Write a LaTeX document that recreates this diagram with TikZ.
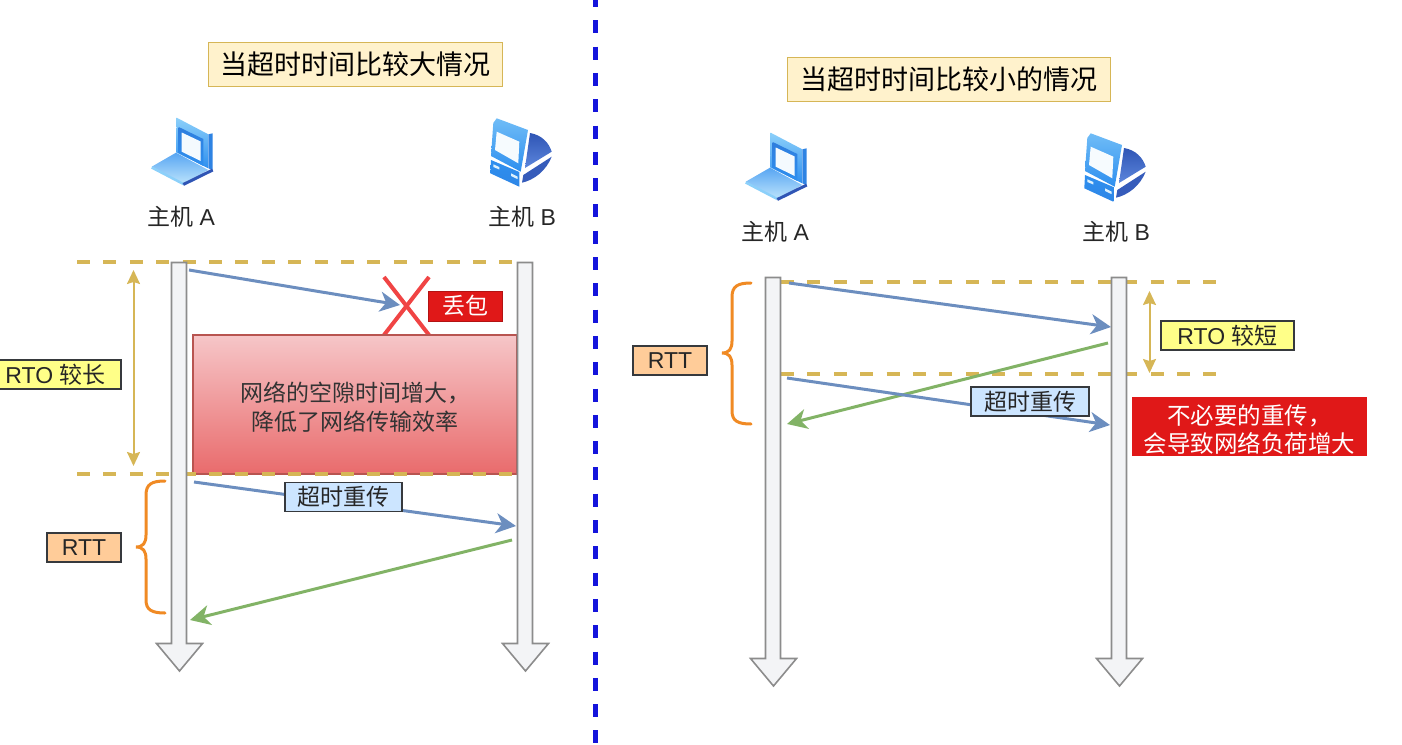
\documentclass[tikz,border=0pt]{standalone}
\usepackage{fontspec}
\setmainfont{Noto Sans CJK SC}
\newfontfamily\lat{Liberation Sans}
\usepackage{tikz}
\usetikzlibrary{arrows.meta,calc}
\definecolor{Sand}{HTML}{D6B656}
\definecolor{TitleFill}{HTML}{FFF2CC}
\definecolor{Steel}{HTML}{6C8EBF}
\definecolor{Leaf}{HTML}{82B366}
\definecolor{Amber}{HTML}{F08A24}
\definecolor{Ink}{HTML}{36393D}
\definecolor{Rail}{HTML}{F3F4F6}
\definecolor{RailLine}{HTML}{8C8C8C}
\definecolor{Alarm}{HTML}{E01818}
\definecolor{CrossRed}{HTML}{F04444}
\definecolor{PaleBlue}{HTML}{CCE5FF}
\definecolor{PaleYellow}{HTML}{FFFF88}
\definecolor{PaleOrange}{HTML}{FFCC99}
\definecolor{GapTop}{HTML}{F6C6C8}
\definecolor{GapEnd}{HTML}{E96B6C}
\definecolor{GapLine}{HTML}{B85450}
\definecolor{Divider}{HTML}{1414DC}
\definecolor{SkyA}{HTML}{2E8FEF}
\definecolor{SkyB}{HTML}{8CD0FA}
\definecolor{SkyC}{HTML}{2F55B5}
\definecolor{SkyD}{HTML}{5C86DC}
\tikzset{
  titlebox/.style={draw=Sand,fill=TitleFill,line width=1pt,minimum height=44pt,font=\fontsize{27}{27}\selectfont},
  hostlabel/.style={font=\fontsize{23}{23}\selectfont,text=black!85},
  tagbox/.style={draw=Ink,line width=1.2pt,minimum height=29pt,font=\fontsize{23}{23}\selectfont,text=black!85},
  timeline/.style={Sand,line width=4pt,dash pattern=on 13pt off 13.4pt},
  rtospan/.style={{Stealth[length=14pt,width=13pt,inset=2pt]}-{Stealth[length=14pt,width=13pt,inset=2pt]},Sand,line width=2pt},
  msg/.style={-{Stealth[length=20pt,width=20pt,inset=6pt]},line width=3pt},
  bracket/.style={Amber,line width=3pt,line cap=round},
  pics/rail/.style={code={
    \draw[draw=RailLine,fill=Rail,line width=1.6pt] (-7.5,0) -- (7.5,0) -- (7.5,381) -- (23.5,381) -- (0.5,408.5) -- (-22.5,381) -- (-7.5,381) -- cycle;
  }},
  pics/laptop/.style={code={
    \shade[top color=SkyB,bottom color=SkyA] (-4.3,-8.3) -- (27.3,8.3) -- (27.3,42.3) -- (-5,26.3) -- cycle;
    \fill[SkyA!80!SkyC] (27.3,8.3) -- (31.7,7.3) -- (31.7,44) -- (27.3,42.3) -- cycle;
    \shade[top color=SkyA!70!SkyC,bottom color=SkyA] (-2.3,1) -- (22.3,13) -- (22.3,40) -- (-2.3,27) -- cycle;
    \fill[white!90!SkyB] (0.7,6.5) -- (19.7,15.5) -- (19.7,35) -- (0.7,25.7) -- cycle;
    \shade[top color=SkyA!80!white,bottom color=SkyB!60!white] (-29.3,40.7) -- (-5,26.7) -- (27.3,44) -- (2.3,57.3) -- cycle;
    \draw[SkyB,line width=2.5pt] (-29.3,41.5) -- (2.3,58);
    \draw[SkyC,line width=3pt] (2.3,58.5) -- (31.7,44);
  }},
  pics/desktop/.style={code={
    \shade[top color=SkyB!70!SkyA,bottom color=SkyA] (-28.7,-3) -- (-25.3,-7.7) -- (6,4) -- (-1.3,45.7) -- (-31,30) -- cycle;
    \fill[white!92!SkyB] (-25.3,5.7) -- (-2.7,15.7) -- (-3.7,37.3) -- (-27,24) -- cycle;
    \shade[top color=SkyA,bottom color=SkyA!85!SkyC] (-31,34) -- (-2.7,46) -- (-2.7,60.7) -- (-31.7,47.3) -- cycle;
    \fill[white!70!SkyB] (-28.7,38.3) -- (-22.7,41) -- (-22.7,43.5) -- (-28.7,41) -- cycle;
    \fill[white!70!SkyB] (-11,47.3) -- (-4.3,50.7) -- (-4.3,53.2) -- (-11,50) -- cycle;
    \shade[top color=SkyC,bottom color=SkyD] (8,7) .. controls (20,9) and (27,17) .. (29.7,25.7) -- (3,42) -- cycle;
    \fill[SkyC!85!SkyD] (29.7,30.7) -- (1.3,49) -- (0,56.7) .. controls (12,54) and (24,45) .. (29.7,30.7) -- cycle;
  }},
}
\begin{document}
\begin{tikzpicture}[x=1pt,y=-1pt]
\useasboundingbox (0,0) rectangle (1402,744);
% divider
\coordinate (divtop) at (595.5,-6);
\coordinate (divbot) at (595.5,744);
\draw[Divider,line width=4.5pt,dash pattern=on 13pt off 13.3pt] (divtop) -- (divbot);

% left side: large timeout
\node[titlebox,minimum width=294pt] (titleL) at (355,64) {当超时时间比较大情况};
\pic at (181,126) {laptop};
\pic at (522,126) {desktop};
\node[hostlabel] (hostLA) at (181,217) {主机{\lat\ A}};
\node[hostlabel] (hostLB) at (522,217) {主机{\lat\ B}};
\coordinate (dashLa) at (77,262);
\coordinate (dashLb) at (516,262);
\coordinate (dashLc) at (77,474);
\coordinate (dashLd) at (516,474);
\draw[CrossRed,line width=4pt] (384,277) -- (429,335);
\draw[CrossRed,line width=4pt] (429,277) -- (384,335);
\node[draw=GapLine,line width=2pt,top color=GapTop,bottom color=GapEnd,minimum width=324pt,minimum height=139pt,align=center,font=\fontsize{23}{29}\selectfont,text=black!80] (gapL) at (355,404.5) {\rule{0pt}{25pt}网络的空隙时间增大，\\ 降低了网络传输效率};
\draw[timeline] (dashLa) -- (dashLb);
\draw[timeline] (dashLc) -- (dashLd);
\pic at (179,262.5) {rail};
\pic at (525,262.5) {rail};
\coordinate (rtoLa) at (133.5,270);
\coordinate (rtoLb) at (133.5,466);
\draw[rtospan] (rtoLa) -- (rtoLb);
\node[tagbox,fill=PaleYellow,minimum width=131pt] (rtoL) at (55.5,374.5) {{\lat RTO }较长};
\node[tagbox,fill=PaleOrange,minimum width=74pt] (rttL) at (84,547.5) {\lat RTT};
\draw[bracket] (165,481) .. controls (152,481) and (146,484) .. (146,495) -- (146,535) .. controls (146,543) and (143,547) .. (136,547) .. controls (143,547) and (146,551) .. (146,559) -- (146,600) .. controls (146,610) and (152,613) .. (165,613);
\coordinate (sendLa) at (189,270);
\coordinate (sendLb) at (400,305);
\draw[msg,Steel] (sendLa) -- (sendLb);
\node[fill=Alarm,draw=Alarm!80!black,minimum width=74pt,minimum height=30pt,text=white,font=\fontsize{23}{23}\selectfont] (lostL) at (465,306) {丢包};
\coordinate (againLa) at (194,482);
\coordinate (againLb) at (516,526);
\draw[msg,Steel] (againLa) -- (againLb);
\node[tagbox,fill=PaleBlue,minimum width=117pt] (againL) at (343.5,497) {超时重传};
\coordinate (ackLa) at (512,540);
\coordinate (ackLb) at (190,620);
\draw[msg,Leaf] (ackLa) -- (ackLb);

% right side: small timeout
\node[titlebox,minimum width=323pt] (titleR) at (948.5,79) {当超时时间比较小的情况};
\pic at (775,141) {laptop};
\pic at (1116,141) {desktop};
\node[hostlabel] (hostRA) at (775,232) {主机{\lat\ A}};
\node[hostlabel] (hostRB) at (1116,232) {主机{\lat\ B}};
\coordinate (dashRa) at (781,282);
\coordinate (dashRb) at (1216,282);
\coordinate (dashRc) at (781,374);
\coordinate (dashRd) at (1216,374);
\draw[timeline] (dashRa) -- (dashRb);
\draw[timeline] (dashRc) -- (dashRd);
\pic at (773,277.5) {rail};
\pic at (1119,277.5) {rail};
\coordinate (rtoRa) at (1149.5,291);
\coordinate (rtoRb) at (1149.5,373);
\draw[rtospan] (rtoRa) -- (rtoRb);
\node[tagbox,fill=PaleYellow,minimum width=133pt] (rtoR) at (1227.5,335.5) {{\lat RTO }较短};
\node[tagbox,fill=PaleOrange,minimum width=74pt] (rttR) at (670,360.5) {\lat RTT};
\draw[bracket] (751,283) .. controls (738,283) and (732,286) .. (732,297) -- (732,341) .. controls (732,349) and (729,353) .. (722,353) .. controls (729,353) and (732,357) .. (732,365) -- (732,411) .. controls (732,421) and (738,424) .. (751,424);
\coordinate (sendRa) at (789,283);
\coordinate (sendRb) at (1111,327);
\draw[msg,Steel] (sendRa) -- (sendRb);
\coordinate (ackRa) at (1108,343);
\coordinate (ackRb) at (787,424);
\draw[msg,Leaf] (ackRa) -- (ackRb);
\coordinate (againRa) at (787,378);
\coordinate (againRb) at (1110,425);
\draw[msg,Steel] (againRa) -- (againRb);
\node[tagbox,fill=PaleBlue,minimum width=118pt] (againR) at (1030,401.5) {超时重传};
\node[fill=Alarm,inner ysep=0pt,minimum width=235pt,minimum height=59pt,align=center,text=white,font=\fontsize{23.5}{28}\selectfont] (warnR) at (1249.5,426.5) {\rule{0pt}{26pt}不必要的重传，\\ 会导致网络负荷增大};
\end{tikzpicture}
\end{document}
